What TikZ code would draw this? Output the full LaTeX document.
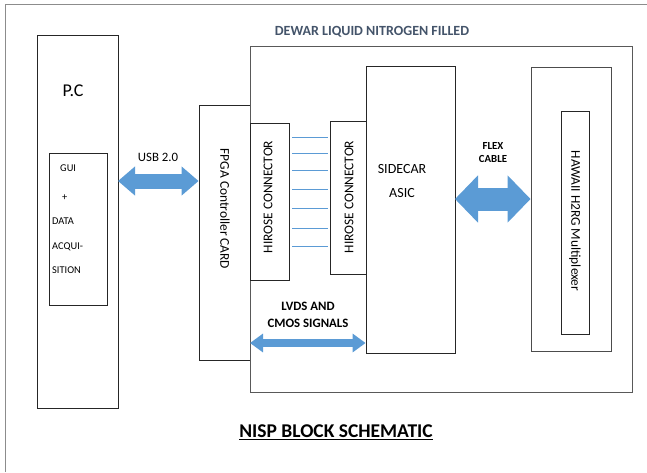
\documentclass[tikz,border=0pt]{standalone}
\usepackage{fontspec}
\setmainfont{Carlito}
\usepackage{tikz}
\usetikzlibrary{arrows.meta,positioning,calc}
\definecolor{arrowblue}{RGB}{91,155,213}
\definecolor{titleslate}{RGB}{68,84,106}
\definecolor{edgegray}{RGB}{89,89,89}
\tikzset{
  blockbox/.style={
    draw=black!85,line width=0.8pt,minimum width=#1,inner sep=0pt
  },
  framebox/.style={draw=edgegray,line width=0.9pt,inner sep=0pt},
  boxtext/.style={font=\fontsize{13.4}{15}\selectfont,inner sep=0pt},
  boldtext/.style={font=\fontsize{12.8}{17}\selectfont\bfseries,align=center,inner sep=0pt},
  busarrow/.style={draw=arrowblue,line width=#1},
  wireline/.style={draw=arrowblue,line width=0.7pt}
}
\begin{document}
\begin{tikzpicture}[x=1pt,y=-1pt]
  \useasboundingbox (0,0) rectangle (647,472);
  % page border
  \draw[draw=black!45,line width=0.8pt] (5,472) -- (5,4) -- (647,4);

  % P.C side
  \node[blockbox=81pt,minimum height=373pt] (pc) at (77.5,221.5) {};
  \node[font=\fontsize{18}{20}\selectfont,inner sep=0pt] (pclabel) at (73,91) {P.C};
  \node[blockbox=58pt,minimum height=152pt] (gui) at (78,229) {};
  \node[font=\fontsize{10.4}{24.5}\selectfont,align=left,anchor=north west,inner sep=0pt]
    (guilabel) at (52,165) {\hspace*{8pt}GUI\\[4pt]\hspace*{10pt}+\\DATA\\ACQUI-\\SITION};

  % FPGA card and dewar
  \node[blockbox=51pt,minimum height=255pt] (fpga) at (224.5,232.5) {};
  \node[boxtext,rotate=-90] (fpgalabel) at (225,209) {FPGA Controller CARD};
  \node[framebox,minimum width=382pt,minimum height=346pt] (dewar) at (441,219) {};
  \node[font=\fontsize{14}{16}\selectfont\bfseries,text=titleslate,inner sep=0pt]
    (dewarlabel) at (372,32) {DEWAR LIQUID NITROGEN FILLED};

  % connectors inside the dewar
  \node[blockbox=39pt,minimum height=157pt] (hiroseA) at (269.5,201.5) {};
  \node[boxtext,rotate=90] (hiroseAlabel) at (268,197) {HIROSE CONNECTOR};
  \node[blockbox=36pt,minimum height=153pt] (hiroseB) at (348,197.5) {};
  \node[boxtext,rotate=90] (hiroseBlabel) at (349,197) {HIROSE CONNECTOR};
  \foreach \wy in {137,153,170,189,208,228,246}
    \draw[wireline,shorten <=3pt,shorten >=2pt] (hiroseA.east |- 0,\wy) -- (hiroseB.west |- 0,\wy);

  % sidecar and detector
  \node[blockbox=89pt,minimum height=287pt] (sidecar) at (410.5,209.5) {};
  \node[boxtext,align=center,font=\fontsize{14}{24}\selectfont] (sidecarlabel) at (402,181) {SIDECAR\\ASIC};
  \node[framebox,draw=black!70,minimum width=80pt,minimum height=284pt] (hawaiibox) at (571,209) {};
  \node[blockbox=28pt,minimum height=223pt] (hawaii) at (575,222.5) {};
  \node[boxtext,rotate=-90] (hawaiilabel) at (575,221) {HAWAII H2RG Multiplexer};

  % buses
  \coordinate (usbL) at (118,181);
  \draw[busarrow=15pt,{Triangle[width=28pt,length=17pt]}-{Triangle[width=28pt,length=17pt]}]
    (usbL) -- (usbL -| fpga.west);
  \node[font=\fontsize{12.8}{15}\selectfont,inner sep=0pt] (usblabel) at (158,157) {USB 2.0};
  \coordinate (lvdsL) at (250,343);
  \draw[busarrow=8pt,{Triangle[width=18pt,length=13pt]}-{Triangle[width=18pt,length=13pt]}]
    (lvdsL) -- (lvdsL -| sidecar.west);
  \node[boldtext] (lvdslabel) at (308,314.5) {LVDS AND\\CMOS SIGNALS};
  \coordinate (flexL) at (455,199);
  \draw[busarrow=23pt,{Triangle[width=46pt,length=23pt]}-{Triangle[width=46pt,length=23pt]}]
    (flexL) -- (flexL -| hawaiibox.west);
  \node[boldtext,font=\fontsize{10.8}{13}\selectfont\bfseries] (flexlabel) at (493,152.5) {FLEX\\CABLE};

  \node[font=\fontsize{19.5}{22}\selectfont\bfseries,inner sep=0pt] (title) at (336,432)
    {\underline{NISP BLOCK SCHEMATIC}};
\end{tikzpicture}
\end{document}
